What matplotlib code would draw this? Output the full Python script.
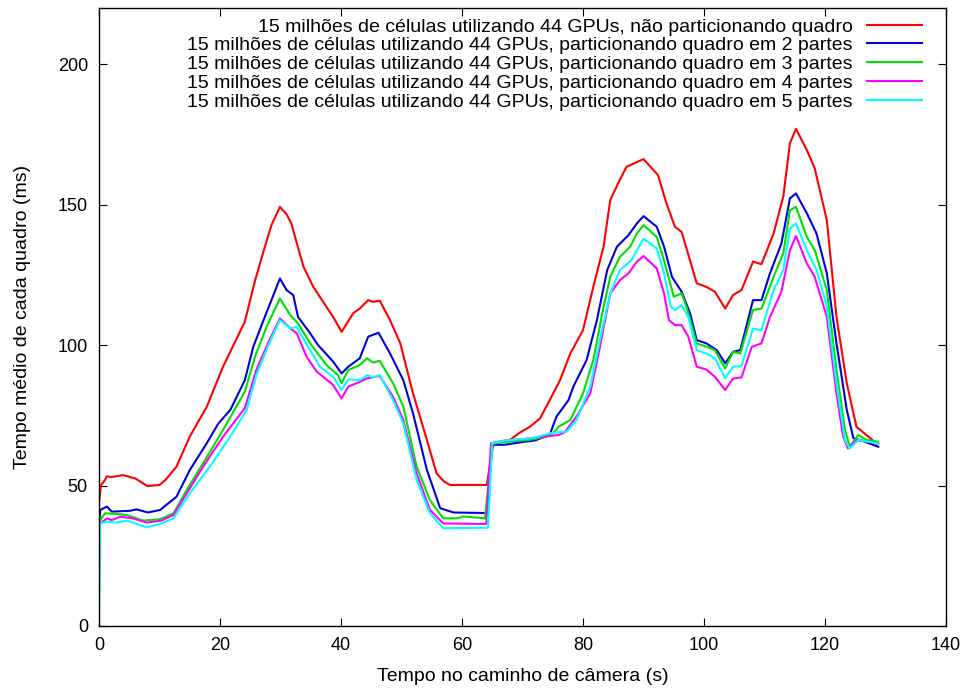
import matplotlib
matplotlib.use("Agg")
import matplotlib.pyplot as plt

plt.rcParams['font.family'] = ['Liberation Sans', 'DejaVu Sans']

# tempo (s) e tempo medio por quadro (ms)
t_red = [0, 0.3, 1, 1.3, 2, 4, 6, 8, 10, 11, 12.8, 15, 17.8, 20.5, 24.1, 25.8, 27, 28.5, 29.9,
         31, 31.8, 32.7, 33.8, 35.4, 38.7, 40.1, 42, 43.1, 44.5, 45.3, 46.4, 48.1, 49.8, 51.9,
         54.2, 55.8, 57, 58, 64.1, 65.2, 67.9, 69.6, 71.2, 72.9, 74.5, 76.2, 77.9, 80, 81.7,
         83.4, 84.5, 85.8, 87.2, 90, 92.4, 93.8, 95.2, 96.3, 98.8, 100.4, 101.8, 103.5, 104.8,
         106.2, 108.1, 109.5, 111.5, 113.1, 114.2, 115.2, 117, 118.3, 120.3, 121.9, 123.6,
         125.2, 128.5]
v_red = [44, 50, 52, 53.3, 53, 53.7, 52.5, 49.8, 50.2, 52, 56.7, 67.4, 78, 92.3, 108.3, 123,
         132, 142.7, 149.2, 146.6, 143.3, 136.2, 127.9, 120.8, 110, 104.7, 111.3, 113, 116,
         115.4, 115.8, 108.9, 100.6, 82.8, 66.2, 54.3, 51.5, 50.2, 50.2, 65.2, 66.2, 68.9, 70.9,
         73.9, 80.4, 87.5, 97, 105.3, 120.7, 135, 151.6, 157.6, 163.5, 166.2, 160.5, 150.4,
         142.1, 140.3, 122, 120.7, 119, 113, 117.8, 119.6, 129.7, 128.8, 139.7, 152.8, 171.8,
         177, 169.4, 162.9, 144.5, 110, 86.4, 70.9, 65]

t_blue = [0, 0.2, 1.3, 2.1, 5.1, 6.2, 8.1, 10.1, 12.8, 15, 17.8, 19.7, 21.7, 24.1, 25.5, 27.2,
          28.5, 29.9, 31, 32.1, 32.9, 34.9, 36.2, 38.7, 40.1, 41.2, 43.1, 44.5, 46.2, 48.1,
          50.3, 51.9, 54.2, 56.4, 58.6, 64.1, 65, 67, 70, 72, 74.5, 75.6, 77.6, 78.4, 80.6,
          82.3, 84, 85.6, 87.5, 88.9, 90, 92.2, 93.4, 94.7, 96.3, 97.7, 98.8, 100.4, 102.1,
          103.5, 104.8, 106, 108.1, 109.5, 110.9, 112.8, 114.2, 115.2, 117, 118.6, 120.3,
          121.9, 123.6, 124.7, 125.8, 128.8]
v_blue = [36, 41.3, 42.5, 40.7, 41, 41.5, 40.4, 41.3, 46, 55.5, 65, 72, 76.9, 87.5, 99.4, 108.9,
          116, 123.7, 119.6, 117.8, 110, 104.2, 100, 94.1, 89.9, 92.3, 95.3, 103, 104.4, 97,
          87.5, 75.7, 55.5, 41.9, 40.4, 40.2, 64.5, 64.5, 65.5, 66, 68, 74.5, 80.4, 85.2, 94.7,
          108.9, 126.7, 135, 139.1, 143.3, 145.9, 142.1, 135, 124.3, 119, 111.3, 101.8, 100.6,
          98.2, 93.5, 97.6, 98.2, 116, 116, 125.5, 136.2, 152.2, 154, 146.9, 139.7, 125.5,
          100.6, 76.9, 66.8, 66.2, 63.8]

t_green = [0, 0.2, 1, 2.9, 4.6, 7.3, 10.1, 12.3, 14.5, 17.2, 20.5, 24.1, 25.8, 27.7, 29.9,
           31.6, 32.9, 34.9, 37.6, 39.5, 40.1, 41.2, 43.1, 44.3, 45.3, 46.4, 48.6, 50.3, 52.5,
           54.7, 56.9, 59.1, 60.2, 63.8, 65, 67, 70, 72, 74, 75, 76, 77.9, 80, 81.7, 83.4, 84.5,
           86.1, 87.8, 88.9, 90, 92.2, 93.4, 95, 96.3, 97.1, 98.8, 100.4, 101.8, 103.5, 104.8,
           106, 108.1, 109.5, 111.5, 113.1, 114.2, 115.2, 117, 118.3, 120.3, 121.9, 123.3,
           124.1, 125.5, 126.9, 128.8]
v_green = [33, 37.7, 40.1, 39.9, 39.5, 37.5, 38, 40.1, 48.4, 57.9, 69.8, 83.4, 96, 106.5, 116.6,
           110.7, 107.7, 100.6, 92.9, 89.3, 86.4, 91.1, 92.9, 95.3, 93.8, 94.4, 86.4, 78.1,
           56.7, 44.8, 38.3, 38.3, 39, 38.3, 64.8, 65.5, 66, 66.5, 67.5, 68.5, 71, 73.3, 82.8,
           94.7, 113.7, 124.3, 131.4, 135, 139.7, 142.7, 138.5, 130.2, 117.2, 118.4, 113.7,
           100.6, 99.4, 98.2, 91.7, 97.6, 97, 112.5, 113, 124.3, 132.6, 148, 149.2, 138.5,
           133.8, 119.6, 91.1, 69.8, 63.8, 68, 66.2, 65.6]

t_mag = [0, 0.2, 1.3, 2.1, 3.5, 5.6, 7.9, 10.3, 12.3, 14.5, 17.2, 20.5, 24.1, 26, 28, 29.9,
         31.6, 32.7, 34.3, 36, 38.7, 40.1, 41.2, 43.1, 44.2, 46.4, 48.6, 50.3, 52.5, 54.7, 56.9,
         64, 64.8, 67, 70, 72, 74, 76, 77, 78.9, 81.2, 82.8, 84.5, 86.1, 87.5, 88.9, 90, 92.2,
         93.4, 94.2, 95.2, 96.3, 97.4, 98.8, 100.4, 101.8, 103.5, 104.8, 106.2, 107.9, 109.5,
         110.9, 112.8, 114.2, 115.2, 117, 118.3, 120.3, 121.9, 123, 123.8, 125.2, 128.8]
v_mag = [34, 36.5, 38.3, 37.7, 38.9, 38.3, 36.8, 37.5, 39.5, 47.2, 56.7, 67.4, 77.5, 91.1, 101,
         109.5, 106, 104.2, 95.9, 90.5, 85.8, 81, 85.2, 86.9, 88.1, 89, 81.6, 73.3, 54.3, 41.3,
         36.5, 36.3, 65, 66, 66.5, 67, 67.5, 68, 69, 74.5, 82.8, 99.4, 118.4, 123.1, 125.5,
         129.7, 131.7, 127.3, 118.4, 108.9, 107.1, 107.1, 103, 92.3, 91.3, 88.7, 84, 88.1, 88.5,
         99.4, 100.6, 110, 119, 133.8, 138.8, 129.1, 124.3, 110, 82.8, 67.4, 63.2, 66.2, 65]

t_cyan = [0, 0.2, 1.3, 2.9, 4.6, 7.9, 10.3, 12.3, 15, 18.3, 21.7, 24.4, 26, 28, 29.9, 31.6,
          32.7, 33.2, 34.9, 36.5, 38.7, 40.1, 41.2, 43.1, 44.3, 45.3, 46.4, 48.6, 50.3, 52.5,
          54.7, 56.9, 64.3, 65, 67, 70, 72, 74.5, 77.3, 78.9, 81.2, 82.8, 84.5, 86.1, 88, 90,
          92.2, 93.4, 94.5, 95.2, 96.3, 97.4, 98.8, 100.4, 101.8, 103.5, 104.8, 106.2, 108.1,
          109.5, 111.5, 113.1, 114.2, 115.2, 117, 118.6, 120.3, 121.9, 123.3, 124.1, 125.5,
          128.8]
v_cyan = [0, 36.5, 37.1, 36.8, 37.5, 35.1, 36.5, 38.3, 47.2, 56.7, 67.4, 76.9, 89.3, 100, 108.9,
          106, 106.5, 104.2, 98.2, 92.3, 88.7, 84, 87.8, 87.5, 89.3, 88.5, 89.3, 80.4, 72.1, 52,
          40.1, 34.8, 35, 65, 66, 66.5, 67, 68.6, 69.2, 73.3, 85.2, 101.8, 118.4, 126.7, 130.2,
          137.9, 134.4, 125.5, 113.7, 112.5, 114.2, 110, 98.2, 97, 95.3, 88.1, 92.3, 92.5, 105.9,
          105.3, 119.6, 126.7, 141.5, 143.3, 133.8, 126.7, 113.7, 86.4, 66.2, 63.2, 66.2, 65]

labels = [
    '15 milhões de células utilizando 44 GPUs, não particionando quadro',
    '15 milhões de células utilizando 44 GPUs, particionando quadro em 2 partes',
    '15 milhões de células utilizando 44 GPUs, particionando quadro em 3 partes',
    '15 milhões de células utilizando 44 GPUs, particionando quadro em 4 partes',
    '15 milhões de células utilizando 44 GPUs, particionando quadro em 5 partes',
]
colors = ['#ff0000', '#0000dd', '#00e000', '#ff00ff', '#00ffff']

fig = plt.figure(figsize=(9.66, 6.90), dpi=100)
ax = fig.add_axes([0.1025, 0.0928, 0.8768, 0.8956])

series = [(t_red, v_red), (t_blue, v_blue), (t_green, v_green), (t_mag, v_mag), (t_cyan, v_cyan)]
for (t, v), c, lab in zip(series, colors, labels):
    ax.plot(t, v, color=c, lw=1.5, label=lab)

ax.set_xlim(0, 140)
ax.set_ylim(0, 220)
ax.set_xticks(range(0, 141, 20))
ax.set_yticks(range(0, 201, 50))
ax.tick_params(direction='in', length=6, width=0.8, top=True, right=True,
               labelsize=13, pad=8, colors='black')
for s in ax.spines.values():
    s.set_linewidth(1.0)

ax.set_xlabel('Tempo no caminho de câmera (s)', fontsize=14, labelpad=10)
ax.set_ylabel('Tempo médio de cada quadro (ms)', fontsize=14, labelpad=19)

ax.legend(loc='upper right', bbox_to_anchor=(0.9717, 0.984), frameon=False,
          markerfirst=False, fontsize=14.0, handlelength=2.85, handletextpad=0.73,
          labelspacing=0.06, borderpad=0, borderaxespad=0)

plt.savefig('out.png', dpi=100)
